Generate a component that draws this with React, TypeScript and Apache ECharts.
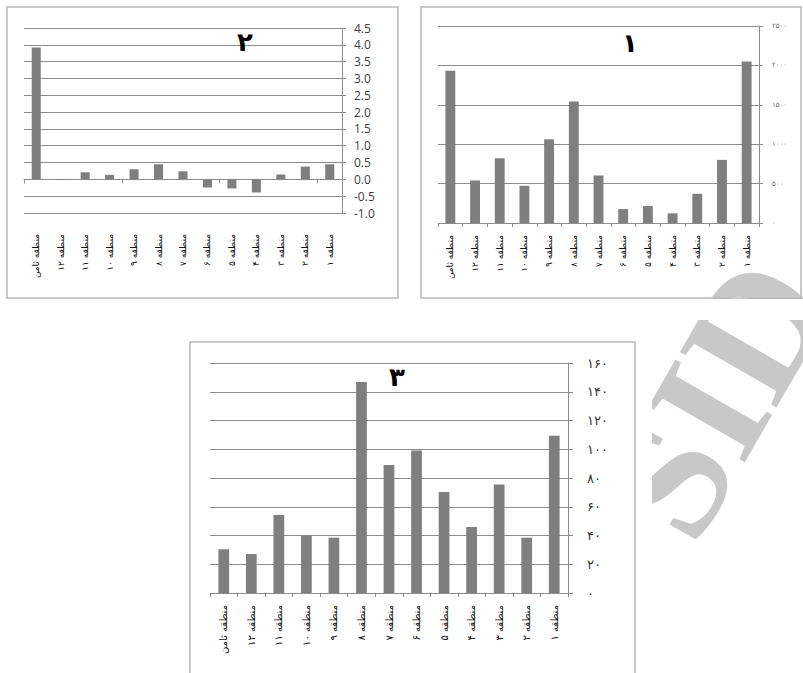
import { useEffect, useRef } from 'react';
import * as echarts from 'echarts';

const categories = [
  'منطقه ثامن', 'منطقه ۱۲', 'منطقه ۱۱', 'منطقه ۱۰', 'منطقه ۹', 'منطقه ۸', 'منطقه ۷',
  'منطقه ۶', 'منطقه ۵', 'منطقه ۴', 'منطقه ۳', 'منطقه ۲', 'منطقه ۱',
];

// Chart ۱ (top right)
const chart1Values = [1931, 540, 822, 472, 1062, 1543, 603, 177, 215, 122, 371, 801, 2049];
const chart1Ticks = ['۰', '۵۰۰', '۱۰۰۰', '۱۵۰۰', '۲۰۰۰', '۲۵۰۰'];

// Chart ۲ (top left)
const chart2Values = [3.92, -0.02, 0.21, 0.135, 0.3, 0.45, 0.24, -0.24, -0.27, -0.39, 0.145, 0.38, 0.45];
const chart2Ticks = ['-1.0', '-0.5', '0.0', '0.5', '1.0', '1.5', '2.0', '2.5', '3.0', '3.5', '4.0', '4.5'];

// Chart ۳ (bottom)
const chart3Values = [30.4, 27.1, 54.3, 39.7, 38.5, 146.8, 89, 99.2, 70.3, 45.9, 75.4, 38.5, 109.4];
const chart3Ticks = ['۰', '۲۰', '۴۰', '۶۰', '۸۰', '۱۰۰', '۱۲۰', '۱۴۰', '۱۶۰'];

const titles = ['۱', '۲', '۳'];

const BAR = '#7f7f7f';
const GRIDLINE = '#8c8c8c';
const FA = "'DejaVu Sans', sans-serif";

export default function App() {
  const ref = useRef<HTMLDivElement>(null);
  useEffect(() => {
    const chart = echarts.init(ref.current!, null, { renderer: 'svg' });
    const lineStyle = { color: GRIDLINE, width: 1 };
    const catLabel = (margin: number, fontSize: number) => ({
      rotate: 90,
      margin,
      fontSize,
      color: '#111',
      fontFamily: FA,
      interval: 0,
    });
    chart.setOption({
      animation: false,
      backgroundColor: '#fff',
      grid: [
        { left: 24, top: 28, width: 318, height: 185, containLabel: false },
        { left: 438, top: 26, width: 321, height: 197, containLabel: false },
        { left: 210, top: 363, width: 358, height: 230, containLabel: false },
      ],
      xAxis: [
        {
          gridIndex: 0, type: 'category', data: categories,
          axisLine: { show: true, onZero: true, lineStyle },
          axisTick: { show: true, length: 4, lineStyle },
          axisLabel: { show: false },
          splitLine: { show: false },
        },
        {
          gridIndex: 0, type: 'category', data: categories, position: 'bottom',
          axisLine: { show: false, onZero: false },
          axisTick: { show: false },
          axisLabel: catLabel(21, 9),
          splitLine: { show: false },
        },
        {
          gridIndex: 1, type: 'category', data: categories,
          axisLine: { show: true, lineStyle },
          axisTick: { show: true, length: 4, lineStyle },
          axisLabel: catLabel(12, 9),
        },
        {
          gridIndex: 2, type: 'category', data: categories,
          axisLine: { show: true, lineStyle },
          axisTick: { show: true, length: 4, lineStyle },
          axisLabel: catLabel(12, 10),
        },
      ],
      yAxis: [
        {
          gridIndex: 0, type: 'value', position: 'right', min: -1, max: 4.5, interval: 0.5,
          axisLine: { show: true, lineStyle },
          axisTick: { show: true, length: 4, lineStyle },
          splitLine: { show: true, lineStyle },
          axisLabel: {
            margin: 12, fontSize: 12, color: '#404040', fontFamily: "'Open Sans', sans-serif",
            formatter: (v: number) => chart2Ticks[Math.round((v + 1) / 0.5)] ?? '',
          },
        },
        {
          gridIndex: 1, type: 'value', position: 'right', min: 0, max: 2500, interval: 500,
          axisLine: { show: true, lineStyle },
          axisTick: { show: true, length: 4, lineStyle },
          splitLine: { show: true, lineStyle },
          axisLabel: {
            margin: 13, fontSize: 7, color: '#707070', fontFamily: FA,
            formatter: (v: number) => chart1Ticks[Math.round(v / 500)] ?? '',
          },
        },
        {
          gridIndex: 2, type: 'value', position: 'right', min: 0, max: 160, interval: 20,
          axisLine: { show: true, lineStyle },
          axisTick: { show: true, length: 5, lineStyle },
          splitLine: { show: true, lineStyle },
          axisLabel: {
            margin: 19, fontSize: 13, color: '#333', fontFamily: FA,
            formatter: (v: number) => chart3Ticks[Math.round(v / 20)] ?? '',
          },
        },
      ],
      series: [
        { type: 'bar', xAxisIndex: 0, yAxisIndex: 0, data: chart2Values, barWidth: '37%', itemStyle: { color: BAR } },
        { type: 'bar', xAxisIndex: 2, yAxisIndex: 1, data: chart1Values, barWidth: '40%', itemStyle: { color: BAR } },
        { type: 'bar', xAxisIndex: 3, yAxisIndex: 2, data: chart3Values, barWidth: '39%', itemStyle: { color: BAR } },
      ],
      graphic: [
        {
          type: 'text', z: -10, x: 716, y: 398, rotation: 1.05,
          style: {
            text: 'SID', fontSize: 170, fontFamily: "'Liberation Serif', serif", fontWeight: 'bold',
            fill: '#c8c8c8', textAlign: 'center', textVerticalAlign: 'middle',
          },
        },
        { type: 'rect', z: -5, shape: { x: 0, y: 300, width: 652, height: 380 }, style: { fill: '#fff' } },
        { type: 'rect', z: -5, shape: { x: 0, y: 299, width: 803, height: 21 }, style: { fill: '#fff' } },
        { type: 'rect', z: -4, shape: { x: 7, y: 7, width: 391, height: 291 }, style: { fill: 'none', stroke: '#b8b8b8', lineWidth: 1.5 } },
        { type: 'rect', z: -4, shape: { x: 421, y: 7, width: 380, height: 291 }, style: { fill: 'none', stroke: '#b8b8b8', lineWidth: 1.5 } },
        { type: 'rect', z: -4, shape: { x: 190, y: 342, width: 445, height: 340 }, style: { fill: 'none', stroke: '#b8b8b8', lineWidth: 1.5 } },
        { type: 'text', z: 10, x: 630, y: 43, style: { text: titles[0], fontSize: 26, fontWeight: 'bold', fill: '#000', fontFamily: FA, textAlign: 'center', textVerticalAlign: 'middle' } },
        { type: 'text', z: 10, x: 245, y: 42, style: { text: titles[1], fontSize: 26, fontWeight: 'bold', fill: '#000', fontFamily: FA, textAlign: 'center', textVerticalAlign: 'middle' } },
        { type: 'text', z: 10, x: 397, y: 377, style: { text: titles[2], fontSize: 26, fontWeight: 'bold', fill: '#000', fontFamily: FA, textAlign: 'center', textVerticalAlign: 'middle' } },
      ],
    });
    return () => chart.dispose();
  }, []);
  return (
    <div
      ref={ref}
      style={{ position: 'absolute', left: 0, top: 0, width: 803, height: 673, background: '#fff' }}
    />
  );
}
